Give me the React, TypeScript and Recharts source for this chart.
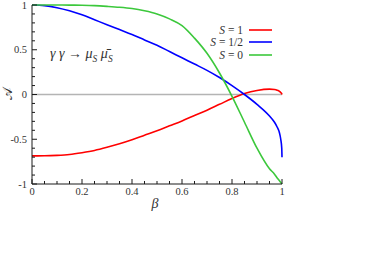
import { LineChart, Line, XAxis, YAxis, ReferenceLine, Legend } from "recharts";

// beta grid (denser near 1 where S=1/2 drops steeply)
const betaValues = [
	0, 0.05, 0.1, 0.15, 0.2, 0.25, 0.3, 0.35, 0.4, 0.45, 0.5, 0.55, 0.6, 0.65, 0.7, 0.75, 0.8, 0.85, 0.9, 0.95,
	0.97, 0.98, 0.99, 0.995, 0.999, 1,
];
const asymSpinOne = [
	-0.686, -0.685, -0.68, -0.67, -0.65, -0.625, -0.59, -0.55, -0.505, -0.455, -0.405, -0.35, -0.295, -0.235,
	-0.175, -0.11, -0.045, 0.01, 0.045, 0.06, 0.055, 0.048, 0.035, 0.022, 0.008, 0,
];
const asymSpinHalf = [
	1, 0.993, 0.97, 0.935, 0.89, 0.835, 0.78, 0.725, 0.67, 0.61, 0.55, 0.48, 0.41, 0.34, 0.27, 0.19, 0.1, 0.0,
	-0.11, -0.24, -0.31, -0.36, -0.43, -0.5, -0.6, -0.7,
];
const asymSpinZero = [
	1, 1, 1, 0.999, 0.997, 0.993, 0.985, 0.975, 0.96, 0.935, 0.9, 0.845, 0.77, 0.63, 0.46, 0.24, -0.02, -0.31,
	-0.6, -0.83, -0.89, -0.93, -0.965, -0.983, -0.996, -1,
];

const spinLabels = ["1", "1/2", "0"];
const seriesColors = ["#ff0000", "#0000ff", "#3cc83c"];

const xMajorTicks = [0, 0.2, 0.4, 0.6, 0.8, 1];
const xMinorTicks = [0.05, 0.1, 0.15, 0.25, 0.3, 0.35, 0.45, 0.5, 0.55, 0.65, 0.7, 0.75, 0.85, 0.9, 0.95];
const yMajorTicks = [-1, -0.5, 0, 0.5, 1];
const yMinorTicks = [-0.9, -0.8, -0.7, -0.6, -0.4, -0.3, -0.2, -0.1, 0.1, 0.2, 0.3, 0.4, 0.6, 0.7, 0.8, 0.9];

const xTicks = [...xMajorTicks, ...xMinorTicks].sort((a, b) => a - b);
const yTicks = [...yMajorTicks, ...yMinorTicks].sort((a, b) => a - b);

const data = betaValues.map((b, i) => ({
	beta: b,
	s1: asymSpinOne[i],
	sHalf: asymSpinHalf[i],
	s0: asymSpinZero[i],
}));

const serif = "Liberation Serif, DejaVu Serif, serif";
const frameColor = "#1a1a1a";
const labelColor = "#333";

function makeTick(side: string, majors: number[], showLabels: boolean) {
	return (props: any) => {
		const { x, y, payload } = props;
		const major = majors.includes(payload.value);
		const len = major ? 5 : 3;
		let x2 = x;
		let y2 = y;
		if (side === "bottom") y2 = y - len;
		if (side === "top") y2 = y + len;
		if (side === "left") x2 = x + len;
		if (side === "right") x2 = x - len;
		return (
			<g>
				<line x1={x} y1={y} x2={x2} y2={y2} stroke={frameColor} strokeWidth={1} />
				{showLabels && major && side === "bottom" && (
					<text x={x} y={y + 11} textAnchor='middle' style={{ fontFamily: serif }} fontSize={10.5} fill={labelColor}>
						{String(payload.value)}
					</text>
				)}
				{showLabels && major && side === "left" && (
					<text x={x - 5} y={y} dy='0.35em' textAnchor='end' style={{ fontFamily: serif }} fontSize={10.5} fill={labelColor}>
						{String(payload.value)}
					</text>
				)}
			</g>
		);
	};
}

function renderLegend(props: any) {
	const items = [...props.payload].sort(
		(a: any, b: any) => spinLabels.indexOf(a.value) - spinLabels.indexOf(b.value)
	);
	return (
		<div style={{ fontFamily: serif, fontSize: 11.5, lineHeight: "12px", color: labelColor }}>
			{items.map((entry: any) => (
				<div
					key={entry.value}
					style={{ display: "flex", justifyContent: "flex-end", alignItems: "center", height: 12.3 }}
				>
					<span style={{ lineHeight: "12px" }}>
						<i>S</i> = {entry.value}
					</span>
					<svg width={23} height={4} style={{ marginLeft: 6 }}>
						<line x1={0} y1={2} x2={23} y2={2} stroke={entry.color} strokeWidth={1.6} />
					</svg>
				</div>
			))}
		</div>
	);
}

export default function App() {
	return (
		<div style={{ position: "absolute", left: 0, top: 0, width: 389, height: 262 }}>
			<LineChart width={389} height={262} data={data} margin={{ top: 5, right: 107, bottom: 48, left: 0 }}>
				<XAxis
					dataKey='beta'
					type='number'
					domain={[0, 1]}
					ticks={xTicks}
					interval={0}
					height={30}
					tickSize={0}
					tickMargin={0}
					tickLine={false}
					axisLine={{ stroke: frameColor }}
					tick={makeTick("bottom", xMajorTicks, true)}
				/>
				<XAxis
					xAxisId='top'
					orientation='top'
					dataKey='beta'
					type='number'
					domain={[0, 1]}
					ticks={xTicks}
					interval={0}
					height={0}
					tickSize={0}
					tickMargin={0}
					tickLine={false}
					axisLine={{ stroke: frameColor }}
					tick={makeTick("top", xMajorTicks, false)}
				/>
				<YAxis
					type='number'
					domain={[-1, 1]}
					ticks={yTicks}
					interval={0}
					width={32}
					tickSize={0}
					tickMargin={0}
					tickLine={false}
					axisLine={{ stroke: frameColor }}
					tick={makeTick("left", yMajorTicks, true)}
				/>
				<YAxis
					yAxisId='right'
					orientation='right'
					type='number'
					domain={[-1, 1]}
					ticks={yTicks}
					interval={0}
					width={0}
					tickSize={0}
					tickMargin={0}
					tickLine={false}
					axisLine={{ stroke: frameColor }}
					tick={makeTick("right", yMajorTicks, false)}
				/>
				<ReferenceLine y={0} stroke='#b4b4b4' strokeWidth={1.5} />
				<Line dataKey='s1' name={spinLabels[0]} type='monotone' stroke={seriesColors[0]} strokeWidth={1.6} dot={false} isAnimationActive={false} />
				<Line dataKey='sHalf' name={spinLabels[1]} type='monotone' stroke={seriesColors[1]} strokeWidth={1.6} dot={false} isAnimationActive={false} />
				<Line dataKey='s0' name={spinLabels[2]} type='monotone' stroke={seriesColors[2]} strokeWidth={1.6} dot={false} isAnimationActive={false} />
				<Legend
					layout='vertical'
					align='center'
					verticalAlign='middle'
					content={renderLegend}
					wrapperStyle={{ position: "absolute", left: 150, top: 24, width: 122 }}
				/>
			</LineChart>
			<div
				style={{
					position: "absolute",
					left: 50,
					top: 46,
					fontFamily: serif,
					fontSize: 14,
					color: labelColor,
					whiteSpace: "nowrap",
				}}
			>
				<i>γ</i> <i>γ</i> → <i>μ</i>
				<sub style={{ fontSize: 9.5 }}>
					<i>S</i>
				</sub>{" "}
				<i>μ̄</i>
				<sub style={{ fontSize: 9.5 }}>
					<i>S</i>
				</sub>
			</div>
			<div
				style={{
					position: "absolute",
					left: 0,
					top: 86,
					width: 16,
					height: 16,
					lineHeight: "16px",
					textAlign: "center",
					fontFamily: serif,
					fontSize: 13,
					color: labelColor,
					transform: "rotate(-90deg)",
				}}
			>
				𝒜
			</div>
			<div
				style={{
					position: "absolute",
					left: 147,
					top: 196,
					width: 16,
					textAlign: "center",
					fontFamily: serif,
					fontStyle: "italic",
					fontSize: 14,
					color: labelColor,
				}}
			>
				β
			</div>
		</div>
	);
}
